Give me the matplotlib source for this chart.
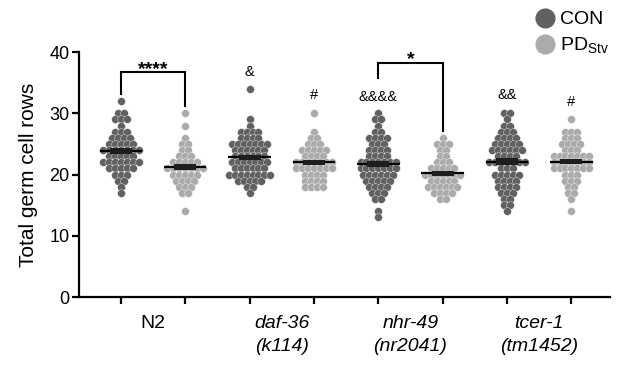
import numpy as np
import matplotlib
matplotlib.use("Agg")
import matplotlib.pyplot as plt
from matplotlib.lines import Line2D

plt.rcParams['font.family'] = ['Liberation Sans', 'DejaVu Sans']

# ---- data: (value, count) per group ----
groups = ["N2", "daf-36\n(k114)", "nhr-49\n(nr2041)", "tcer-1\n(tm1452)"]
italic_groups = [False, True, True, True]

n2_con_vals = [32, 30, 29, 28, 27, 26, 25, 24, 23, 22, 21, 20, 19, 18, 17]
n2_con_cnts = [1, 2, 3, 1, 3, 4, 5, 7, 5, 7, 5, 3, 2, 1, 1]
n2_pd_vals = [30, 28, 26, 25, 24, 23, 22, 21, 20, 19, 18, 17, 14]
n2_pd_cnts = [1, 1, 1, 2, 2, 3, 5, 7, 5, 4, 3, 2, 1]

daf_con_vals = [34, 29, 28, 27, 26, 25, 24, 23, 22, 21, 20, 19, 18, 17]
daf_con_cnts = [1, 1, 1, 4, 4, 7, 6, 6, 7, 6, 8, 5, 2, 1]
daf_pd_vals = [30, 27, 26, 25, 24, 23, 22, 21, 20, 19, 18]
daf_pd_cnts = [1, 1, 2, 3, 5, 4, 7, 7, 4, 4, 4]

nhr_con_vals = [30, 29, 28, 27, 26, 25, 24, 23, 22, 21, 20, 19, 18, 17, 16, 14, 13]
nhr_con_cnts = [1, 2, 1, 2, 4, 3, 4, 4, 7, 7, 6, 5, 4, 3, 2, 1, 1]
nhr_pd_vals = [26, 25, 24, 23, 22, 21, 20, 19, 18, 17, 16]
nhr_pd_cnts = [1, 3, 2, 2, 3, 5, 7, 5, 6, 4, 2]

tcer_con_vals = [30, 29, 28, 27, 26, 25, 24, 23, 22, 21, 20, 19, 18, 17, 16, 15, 14]
tcer_con_cnts = [2, 1, 2, 3, 4, 5, 6, 4, 7, 3, 5, 4, 4, 3, 2, 2, 1]
tcer_pd_vals = [29, 27, 26, 25, 24, 23, 22, 21, 20, 19, 18, 17, 16, 14]
tcer_pd_cnts = [1, 3, 3, 4, 3, 7, 7, 7, 3, 3, 2, 2, 1, 1]

series = [
    (n2_con_vals, n2_con_cnts, "CON"), (n2_pd_vals, n2_pd_cnts, "PD"),
    (daf_con_vals, daf_con_cnts, "CON"), (daf_pd_vals, daf_pd_cnts, "PD"),
    (nhr_con_vals, nhr_con_cnts, "CON"), (nhr_pd_vals, nhr_pd_cnts, "PD"),
    (tcer_con_vals, tcer_con_cnts, "CON"), (tcer_pd_vals, tcer_pd_cnts, "PD"),
]

# markers above columns: (column index, text, y value)
col_marks = [(2, "&", 36.7), (3, "#", 33.0), (4, "&&&&", 32.6), (6, "&&", 33.0), (7, "#", 31.8)]
# significance brackets: (left col, right col, top, left end, right end, text)
brackets = [(0, 1, 36.7, 33.1, 31.2, "****"), (4, 5, 38.2, 35.8, 27.1, "*")]

colors = {"CON": "#616161", "PD": "#ababab"}

fig = plt.figure(figsize=(6.17, 3.69), dpi=100)
ax = fig.add_axes([79/617, 1-297/369, (610-79)/617, (297-52)/369])
ax.set_xlim(-0.65, 7.6)
ax.set_ylim(0, 40)

spacing = 0.092
for i, (vals, cnts, kind) in enumerate(series):
    xs, ys = [], []
    for v, c in zip(vals, cnts):
        offs = (np.arange(c) - (c - 1) / 2) * spacing
        xs.extend(i + offs)
        ys.extend([v] * c)
    ax.scatter(xs, ys, s=32, color=colors[kind], edgecolors='white', linewidths=0.25, zorder=2)
    data = np.repeat(vals, cnts)
    m = data.mean()
    sem = data.std(ddof=1) / np.sqrt(len(data))
    ax.plot([i - 0.33, i + 0.33], [m, m], color='black', lw=1.6, zorder=4, solid_capstyle='butt')
    ax.bar(i, 2 * sem, bottom=m - sem, width=0.34, color='#1e1e1e', zorder=4)

for col, txt, yv in col_marks:
    ax.text(col, yv, txt, ha='center', va='center', fontsize=10.5, color='black')

for l, r, top, ly, ry, txt in brackets:
    ax.plot([l, l, r, r], [ly, top, top, ry], color='black', lw=1.5, clip_on=False,
            solid_joinstyle='miter')
    ax.text((l + r) / 2, top - 0.9, txt, ha='center', va='bottom', fontsize=14,
            fontweight='bold', clip_on=False)

for s in ['top', 'right']:
    ax.spines[s].set_visible(False)
for s in ['left', 'bottom']:
    ax.spines[s].set_linewidth(1.6)

ax.set_yticks([0, 10, 20, 30, 40])
ax.tick_params(axis='y', labelsize=13, width=1.6, length=5, pad=2)
ax.set_xticks(np.arange(8))
ax.set_xticklabels([])
ax.tick_params(axis='x', which='major', width=1.6, length=5)
ax.set_xticks([0.5, 2.5, 4.5, 6.5], minor=True)
ax.set_xticklabels(groups, minor=True, fontsize=14)
ax.tick_params(axis='x', which='minor', length=0, pad=13)
for lab, it in zip(ax.get_xticklabels(minor=True), italic_groups):
    if it:
        lab.set_fontstyle('italic')
    lab.set_linespacing(1.45)
    lab.set_va('top')

ax.set_ylabel("Total germ cell rows", fontsize=15, labelpad=8)

handles = [Line2D([], [], marker='o', ls='', markersize=13.5, color=colors["CON"]),
           Line2D([], [], marker='o', ls='', markersize=13.5, color=colors["PD"])]
fig.legend(handles, ["CON", "PD$_{\\mathregular{Stv}}$"], loc='upper left',
           bbox_to_anchor=(526/617, 1 - 3/369), frameon=False, fontsize=14,
           handletextpad=0.15, labelspacing=0.4, handlelength=1.2, borderaxespad=0)

fig.savefig("out.png", dpi=100)
